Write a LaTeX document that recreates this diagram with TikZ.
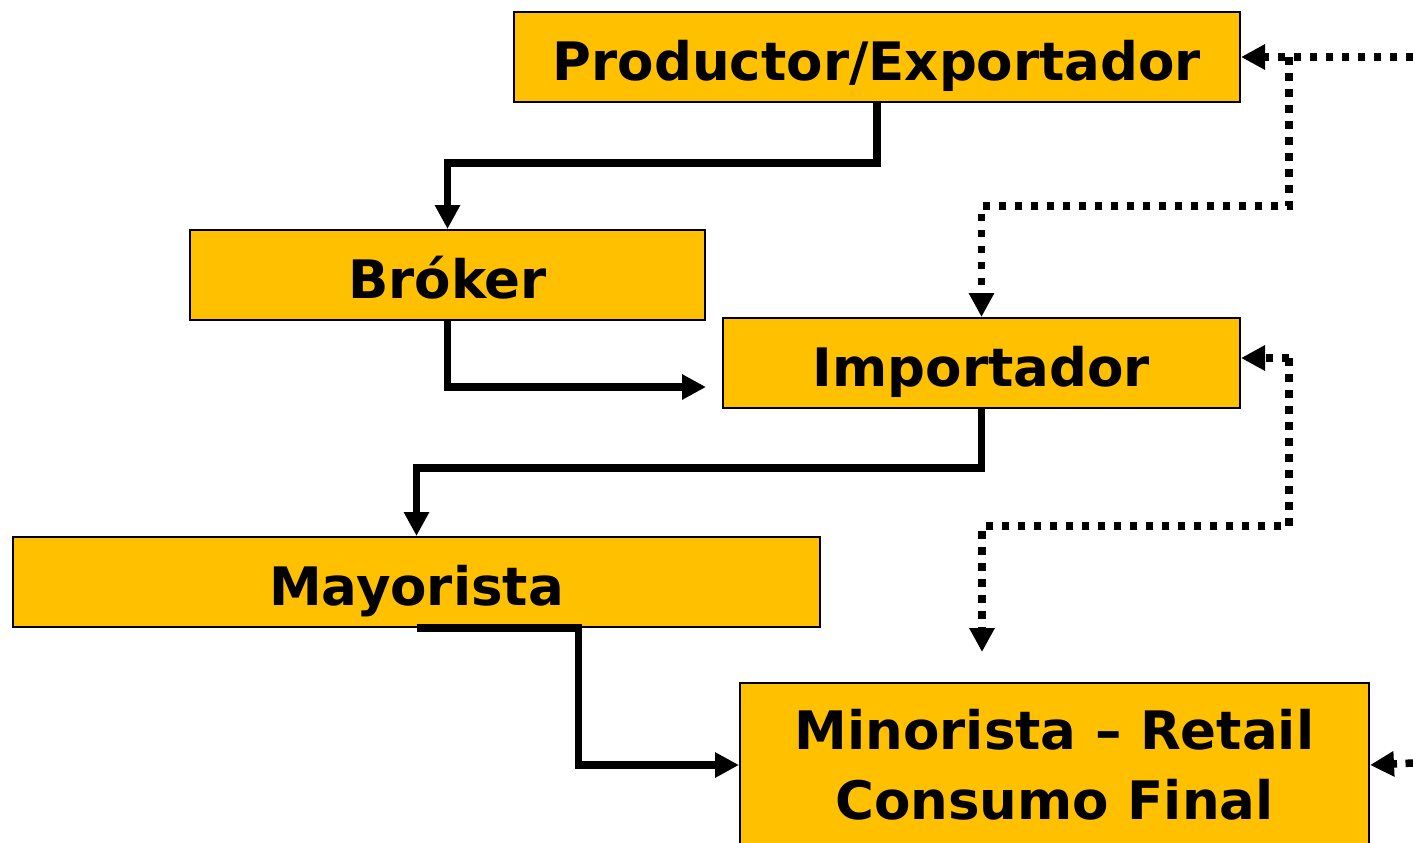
\documentclass[tikz,border=0pt]{standalone}
\usepackage{fontspec}
\setmainfont{DejaVu Sans}
\usetikzlibrary{arrows.meta,calc}
\definecolor{boxgold}{RGB}{255,192,0}

\begin{document}
\begin{tikzpicture}[x=0.5pt, y=-0.5pt,
  stage/.style={draw, rectangle, fill=boxgold, line width=1pt, inner sep=0pt,
    align=center, font=\fontsize{26.5}{35}\selectfont\bfseries},
  oneline/.style={stage, text height=27pt, text depth=4pt},
  flow/.style={line width=3.75pt, -{Triangle[length=12pt,width=12pt]}},
  back/.style={flow, dash pattern=on 3.75pt off 4.25pt}]
\useasboundingbox (0,0) rectangle (1413,842);
% stages
\node[oneline, minimum width=363pt, minimum height=45pt] (prod) at (877,57) {Productor/Exportador};
\node[oneline, minimum width=257.5pt, minimum height=45pt] (brok) at (447.5,275) {Bróker};
\node[oneline, minimum width=258.5pt, minimum height=45pt] (imp) at (981.5,363) {Importador};
\node[oneline, minimum width=403.5pt, minimum height=45pt] (may) at (416.5,582) {Mayorista};
\node[stage, minimum width=314.5pt, minimum height=82pt] (min) at (1054.5,765) {Minorista -- Retail\\Consumo Final};
% free ends of the feedback lines
\coordinate (rp) at (1413,57);
\coordinate (jp) at (1289,57);
\coordinate (ji) at (1289,358);
\coordinate (mt) at (982,652);
\coordinate (rm) at (1413,763);
% product flow
\draw[flow] (prod.south) -- ++(0,60) -| (brok.north);
\draw[flow] (brok.south) |- ($(imp.west)+(-16,24)$);
\draw[flow] (imp.south) -- ++(0,59) -| (may.north);
\draw[flow] (may.south) -- ++(162,0) |- (min.west);
% information flow
\draw[back] (rp) -- (prod.east);
\draw[back] (jp) -- ++(0,149) -| (imp.north);
\draw[back] (ji) -- (ji -| imp.east);
\draw[back] (ji) -- ++(0,168) -| (mt);
\draw[back] (rm) -- (min.east);
\end{tikzpicture}
\end{document}
